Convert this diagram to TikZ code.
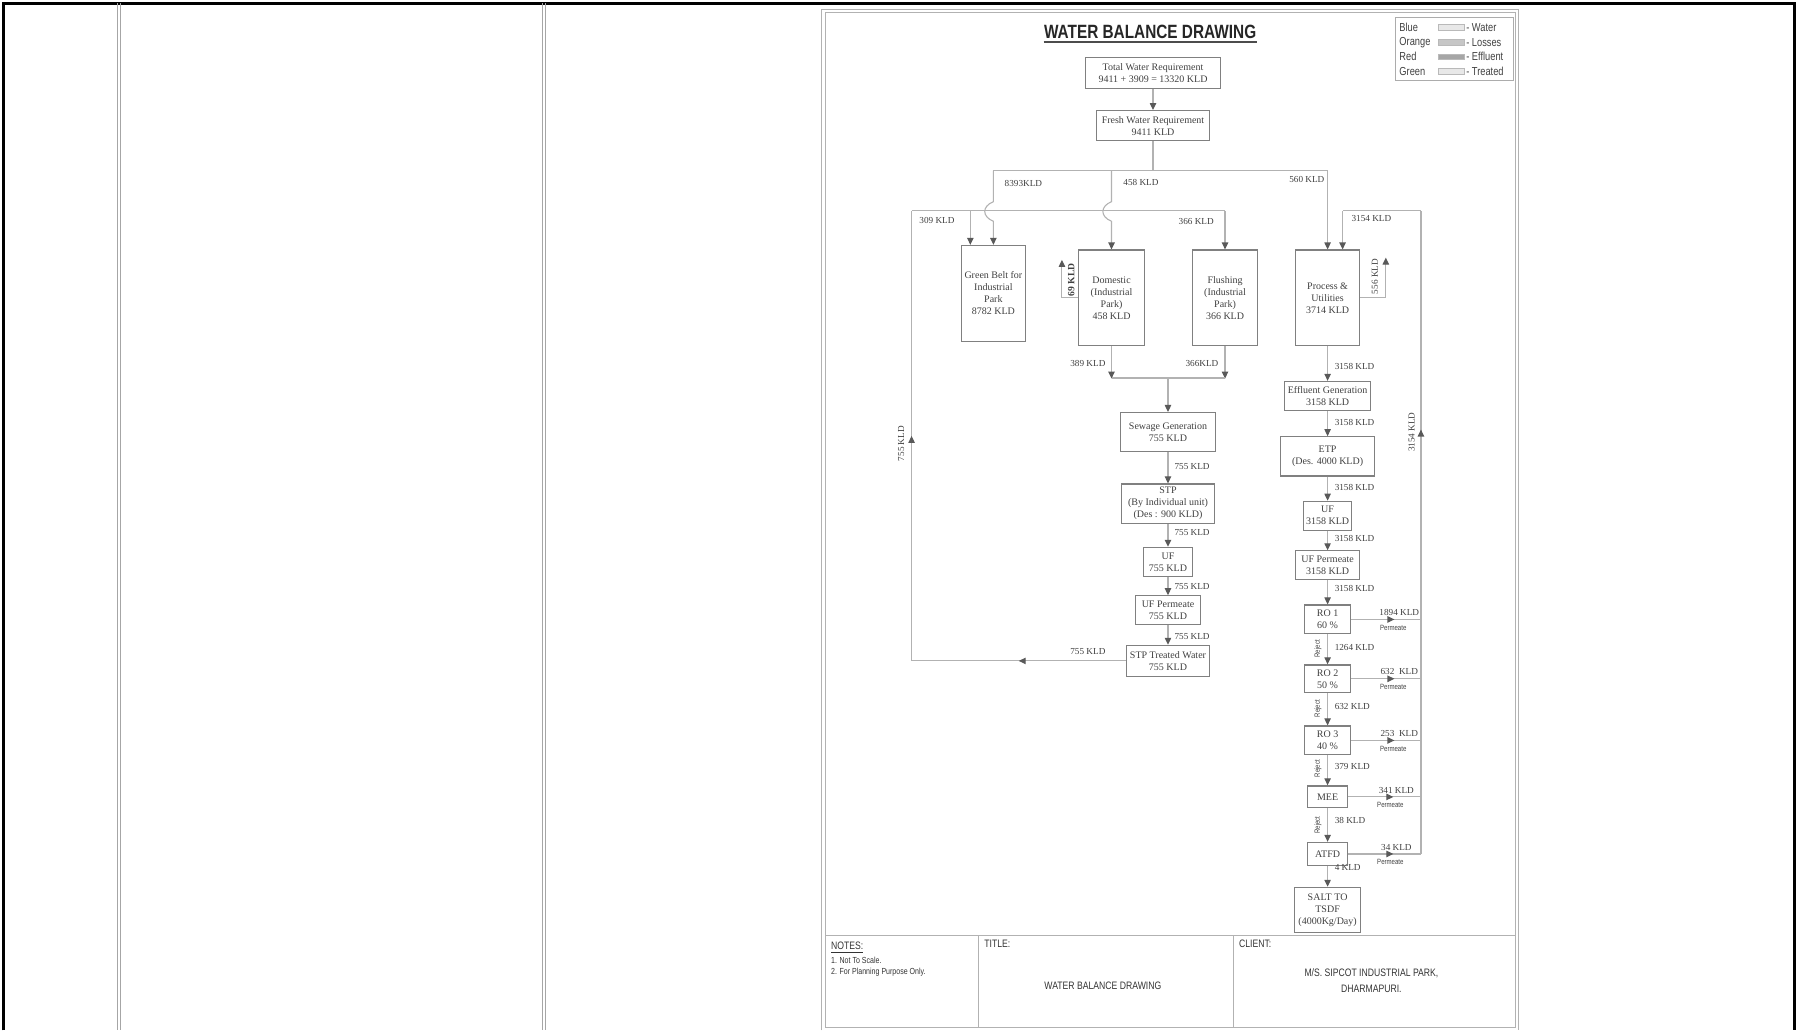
\documentclass[tikz,border=0pt]{standalone}
\usepackage{fontspec}
\setmainfont{Liberation Serif}
\newfontfamily\narrowsf[FakeStretch=0.8]{Liberation Sans}
\usepackage{tikz}
\usetikzlibrary{arrows.meta,positioning,decorations.markings}

\definecolor{linegray}{gray}{0.70}
\definecolor{boxgray}{gray}{0.50}
\definecolor{tipgray}{gray}{0.35}
\definecolor{txtgray}{gray}{0.25}

\tikzset{
  unitbox/.style={draw=boxgray, line width=0.6pt, align=center, inner sep=0.5pt,
    font=\fontsize{5}{6}\selectfont, text=txtgray},
  sz/.style 2 args={minimum width=#1*0.5762pt, minimum height=#2*0.5762pt},
  flow/.style={draw=linegray, line width=0.55pt},
  flowtip/.style={-{Triangle[length=3.5pt,width=3.2pt,color=tipgray]}},
  midtip/.style={postaction={decorate}, decoration={markings,
      mark=at position #1 with {\arrow{Triangle[length=3.5pt,width=3.2pt,color=tipgray]}}}},
  qty/.style={font=\fontsize{4.6}{5}\selectfont, text=txtgray, inner sep=0.5pt},
  perm/.style={font=\narrowsf\fontsize{3.8}{4}\selectfont, text=txtgray, inner sep=0.5pt},
  blocktext/.style={font=\narrowsf\fontsize{5.4}{6.5}\selectfont, text=black!80, inner sep=0.5pt},
}

\begin{document}
\begin{tikzpicture}[x=0.5762pt, y=-0.5762pt]
\useasboundingbox (0,0) rectangle (1568,894);

% sheet frame
\draw[black, line width=1.8pt] (3,894) -- (3,3) -- (1557,3) -- (1557,894);
\draw[gray!70, line width=0.5pt] (102,3) -- (102,894) (104.5,3) -- (104.5,894);
\draw[gray!70, line width=0.5pt] (471,3) -- (471,894) (473.5,3) -- (473.5,894);
\draw[gray!60, line width=0.5pt] (713,894) -- (713,8) -- (1318,8) -- (1318,894);
\draw[gray!60, line width=0.5pt] (716,892) -- (716,11) -- (1315,11) -- (1315,892) -- cycle;
\draw[gray!60, line width=0.6pt] (716,812) -- (1315,812);
\draw[gray!60, line width=0.5pt] (849,812) -- (849,892) (1070,812) -- (1070,892);

% title block
\node[blocktext, anchor=west] (notes) at (720,822) {\underline{NOTES:}};
\node[blocktext, anchor=west, align=left, font=\narrowsf\fontsize{4.4}{5.6}\selectfont] (notelist) at (720,839)
  {1. Not To Scale.\\2. For Planning Purpose Only.};
\node[blocktext, anchor=west] (titlehd) at (853,819) {TITLE:};
\node[blocktext] (titletx) at (957,855) {WATER BALANCE DRAWING};
\node[blocktext, anchor=west] (clienthd) at (1074,819) {CLIENT:};
\node[blocktext, align=center, font=\narrowsf\fontsize{5.4}{8}\selectfont] (client) at (1190,851)
  {M/S. SIPCOT INDUSTRIAL PARK,\\DHARMAPURI.};

% heading
\node[font=\narrowsf\bfseries\fontsize{9.6}{11}\selectfont, text=black!85, inner sep=0pt] (head) at (998,28) {WATER BALANCE DRAWING};
\draw[black!70, line width=0.7pt] ([yshift=-1.6pt]head.base west) -- ([yshift=-1.6pt]head.base east);

% legend
\node[draw=gray!65, line width=0.5pt, sz={102}{55}] (legend) at (1262,42.5) {};
\foreach \name/\col/\what [count=\i] in {Blue/gray!18/Water, Orange/gray!45/Losses, Red/gray!70/Effluent, Green/gray!18/Treated}{
  \node[font=\narrowsf\fontsize{5.8}{6}\selectfont, text=black!75, anchor=west, inner sep=0pt] (lg\i) at (1214,{11.5+\i*12.6}) {\name};
  \node[draw=gray!55, fill=\col, sz={22}{5}, inner sep=0pt] (sw\i) at (1259.5,{11.5+\i*12.6}) {};
  \node[font=\narrowsf\fontsize{5.8}{6}\selectfont, text=black!75, anchor=west, inner sep=0pt] (lw\i) at (1272,{11.5+\i*12.6}) {- \what};
}

% units
\node[unitbox, sz={117}{27}] (total) at (1000.5,63.5) {Total Water Requirement\\9411 + 3909 = 13320 KLD};
\node[unitbox, sz={98}{26}] (fresh) at (1000.5,109) {Fresh Water Requirement\\9411 KLD};
\node[unitbox, sz={56}{83}] (green) at (862,254.5) {Green Belt for\\Industrial\\Park\\8782 KLD};
\node[unitbox, sz={57}{83}] (domestic) at (964.5,258.5) {Domestic\\(Industrial\\Park)\\458 KLD};
\node[unitbox, sz={56}{83}] (flushing) at (1063,258.5) {Flushing\\(Industrial\\Park)\\366 KLD};
\node[unitbox, sz={56}{83}] (process) at (1152,258.5) {Process \&\\Utilities\\3714 KLD};

\node[unitbox, sz={83}{34}] (sewage) at (1013.5,375) {Sewage Generation\\755 KLD};
\node[unitbox, sz={81}{34}] (stp) at (1013.5,437) {STP\\(By Individual unit)\\(Des : 900 KLD)};
\node[unitbox, sz={43}{25}] (uf) at (1013.5,487.5) {UF\\755 KLD};
\node[unitbox, sz={57}{25}] (ufp) at (1013.5,529.5) {UF Permeate\\755 KLD};
\node[unitbox, sz={72}{27}] (stpt) at (1013.5,573.5) {STP Treated Water\\755 KLD};

\node[unitbox, sz={75}{25}] (eff) at (1152,343.5) {Effluent Generation\\3158 KLD};
\node[unitbox, sz={82}{34}] (etp) at (1152,396) {ETP\\(Des. 4000 KLD)};
\node[unitbox, sz={42}{25}] (uf2) at (1152,447.5) {UF\\3158 KLD};
\node[unitbox, sz={56}{25}] (ufp2) at (1152,490.5) {UF Permeate\\3158 KLD};
\node[unitbox, sz={40}{25}] (ro1) at (1152,537.5) {RO 1\\60 \%};
\node[unitbox, sz={40}{24}] (ro2) at (1152,589) {RO 2\\50 \%};
\node[unitbox, sz={40}{25}] (ro3) at (1152,642.5) {RO 3\\40 \%};
\node[unitbox, sz={35}{19}] (mee) at (1152,691.5) {MEE};
\node[unitbox, sz={35}{20}] (atfd) at (1152,741) {ATFD};
\node[unitbox, sz={57}{39}] (salt) at (1152,789.5) {SALT TO\\TSDF\\(4000Kg/Day)};

% fresh water
\draw[flow, flowtip] (total.south) -- (fresh.north);
\draw[flow] (fresh.south) -- (1000.5,148);
\draw[flow] (862,148) -- (1152,148);
\draw[flow, flowtip] (862,148) -- (862,175) .. controls (852,179) and (852,188) .. (862,192) -- (green.north);
\draw[flow, flowtip] (964.5,148) -- (964.5,175) .. controls (954.5,179) and (954.5,188) .. (964.5,192) -- (domestic.north);
\draw[flow, flowtip] (1152,148) -- (process.north);
\node[qty] (q1) at (888,159) {8393KLD};
\node[qty] (q2) at (990,158) {458 KLD};
\node[qty] (q3) at (1134,156) {560 KLD};

% treated sewage recycle
\draw[flow, midtip=0.5] (stpt.west) -- (791,573.5);
\draw[flow, midtip=0.5] (791,573.5) -- (791,183);
\draw[flow] (791,183) -- (1063,183);
\draw[flow, flowtip] (1063,183) -- (flushing.north);
\draw[flow, flowtip] (842,183) -- (green.north -| 842,0);
\node[qty] (q4) at (813,191) {309 KLD};
\node[qty] (q5) at (1038,192) {366 KLD};
\node[qty] (q6) at (944,565) {755 KLD};
\node[qty, rotate=90] (q7) at (782,385) {755 KLD};

% losses
\draw[flow, flowtip] (domestic.west) -- ++(-14,0) -- ++(0,-33);
\node[qty, rotate=90, font=\bfseries\fontsize{4.8}{5}\selectfont] (q8) at (929.5,243) {69 KLD};
\draw[flow, flowtip] (process.east) -- ++(22,0) -- ++(0,-35);
\node[qty, rotate=90] (q9) at (1193,240) {556 KLD};

% sewage line
\draw[flow, flowtip] (domestic.south) -- ++(0,28);
\draw[flow, flowtip] (flushing.south) -- ++(0,28);
\draw[flow] (964.5,328) -- (1063,328);
\draw[flow, flowtip] (1013.5,328) -- (sewage.north);
\node[qty] (q10) at (944,315) {389 KLD};
\node[qty] (q11) at (1043,315) {366KLD};
\foreach \a/\b/\yy in {sewage/stp/405, stp/uf/462, uf/ufp/509, ufp/stpt/552}{
  \draw[flow, flowtip] (\a.south) -- (\b.north);
  \node[qty, anchor=west] (s\a) at (1018,\yy) {755 KLD};
}

% effluent line
\foreach \a/\b/\tx/\yy in {process/eff/3158 KLD/318, eff/etp/3158 KLD/367, etp/uf2/3158 KLD/423,
    uf2/ufp2/3158 KLD/467, ufp2/ro1/3158 KLD/511, ro1/ro2/1264 KLD/562, ro2/ro3/632 KLD/613,
    ro3/mee/379 KLD/665, mee/atfd/38 KLD/712, atfd/salt/4 KLD/753}{
  \draw[flow, flowtip] (\a.south) -- (\b.north);
  \node[qty, anchor=west] (e\a) at (1157,\yy) {\tx};
}
\foreach \a/\yy in {ro1/563, ro2/615, ro3/667, mee/716}{
  \node[perm, rotate=90] (rj\a) at (1143.5,\yy) {Reject};
}

% permeate recycle
\foreach \ro/\tx in {ro1/1894 KLD, ro2/632\enspace KLD, ro3/253\enspace KLD, mee/341 KLD, atfd/34 KLD}{
  \draw[flow, midtip=0.62] (\ro.east) -- (\ro.east -| 1233,0);
  \node[qty, above=1.2pt of \ro.east, xshift=24pt] (p\ro) {\tx};
  \node[perm, below=2pt of \ro.east, xshift=21pt] (pp\ro) {Permeate};
}
\draw[flow, midtip=0.66] (1233,741) -- (1233,183);
\draw[flow] (1233,183) -- (1165,183);
\draw[flow, flowtip] (1165,183) -- (process.north -| 1165,0);
\node[qty] (q12) at (1190,190) {3154 KLD};
\node[qty, rotate=90] (q13) at (1225,375) {3154 KLD};
\end{tikzpicture}
\end{document}
